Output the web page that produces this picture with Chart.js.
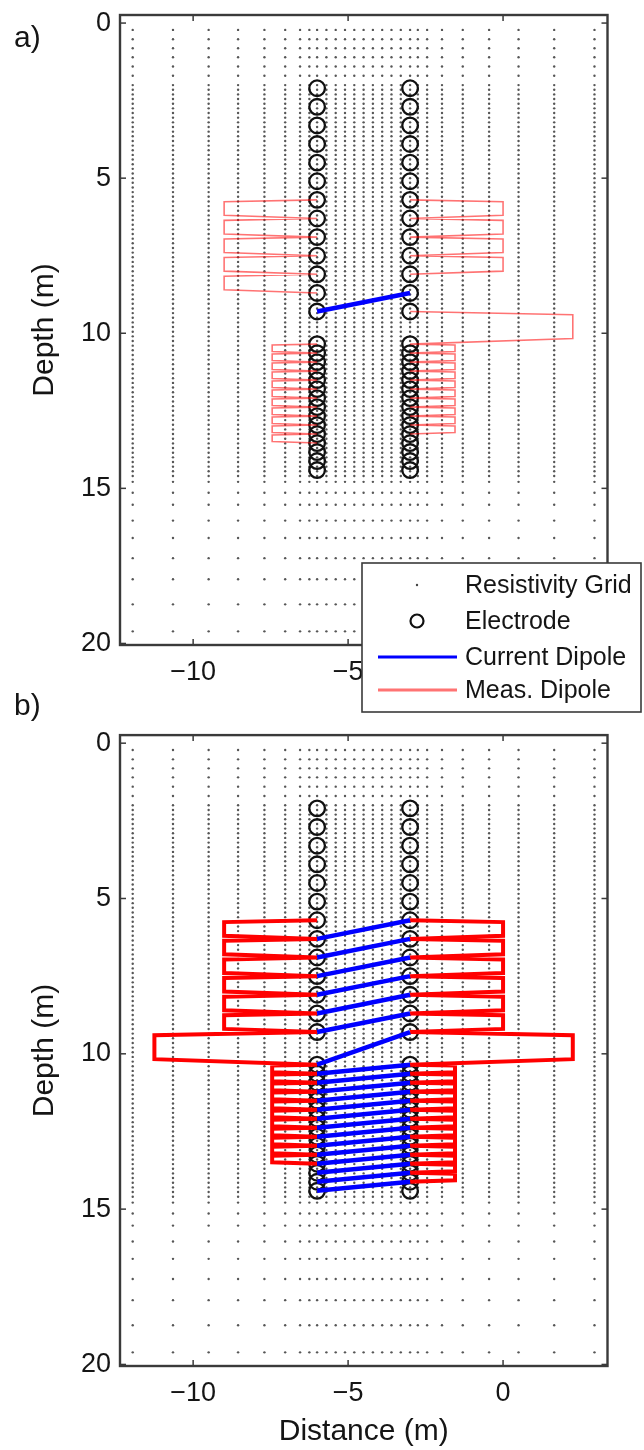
<!DOCTYPE html>
<html>
<head>
<meta charset="utf-8">
<script src="https://cdn.jsdelivr.net/npm/chart.js@4.4.1/dist/chart.umd.min.js"></script>
<style>
  html, body { margin: 0; padding: 0; background: #fff; }
  #wrap { position: relative; width: 644px; height: 1450px; }
  canvas { position: absolute; left: 0; }
  #chartA { top: 0; }
  #chartB { top: 725px; }
  .tag { position: absolute; left: 14px; font: 30px "Liberation Sans", Arial, sans-serif; color: #151515; line-height: 30px; }
</style>
</head>
<body>
<div id="wrap">
  <canvas id="chartA" width="644" height="725"></canvas>
  <canvas id="chartB" width="644" height="725"></canvas>
  <div class="tag" style="top:22px">a)</div>
  <div class="tag" style="top:690px">b)</div>
</div>
<script>
// resistivity grid nodes (m)
const gridX = [-11.95, -10.65, -9.5, -8.55, -7.7, -7.03, -6.55, -6.25, -6.0, -5.7, -5.4, -5.1, -4.8, -4.5,
  -4.2, -3.9, -3.6, -3.3, -3.0, -2.75, -2.45, -1.97, -1.3, -0.45, 0.5, 1.65, 2.95];
const gridZ = [0.22, 0.52, 0.81, 1.1, 1.4, 1.7, 2.0, 2.15, 2.3, 2.45, 2.6, 2.75, 2.9, 3.05, 3.2, 3.35,
  3.5, 3.65, 3.8, 3.95, 4.1, 4.25, 4.4, 4.55, 4.7, 4.85, 5.0, 5.15, 5.3, 5.45, 5.6, 5.75, 5.9, 6.05,
  6.2, 6.35, 6.5, 6.65, 6.8, 6.95, 7.1, 7.25, 7.4, 7.55, 7.7, 7.85, 8.0, 8.15, 8.3, 8.45, 8.6, 8.75,
  8.9, 9.05, 9.2, 9.35, 9.5, 9.65, 9.8, 9.95, 10.1, 10.25, 10.4, 10.55, 10.7, 10.85, 11.0, 11.15,
  11.3, 11.45, 11.6, 11.75, 11.9, 12.05, 12.2, 12.35, 12.5, 12.65, 12.8, 12.95, 13.1, 13.25, 13.4,
  13.55, 13.7, 13.85, 14.0, 14.15, 14.3, 14.45, 14.6, 14.79, 15.14, 15.53, 16.04, 16.6, 17.25,
  17.93, 18.74, 19.61];

// two boreholes, same electrode depths in each
const boreholeX = [-6, -3];
const electrodeZ = [2.1, 2.7, 3.3, 3.9, 4.5, 5.1, 5.7, 6.3, 6.9, 7.5, 8.1, 8.7, 9.3,
  10.35, 10.64, 10.93, 11.22, 11.51, 11.8, 12.09, 12.38, 12.67, 12.96, 13.25, 13.54, 13.83, 14.12, 14.41];

const xTicks = [-10, -5, 0];
const yTicks = [0, 5, 10, 15, 20];

// current dipoles: [boreholeA, electrodeA, boreholeB, electrodeB]
const currentA = [[0, 12, 1, 11]];
const currentB = [
  [0, 7, 1, 6], [0, 8, 1, 7], [0, 9, 1, 8], [0, 10, 1, 9], [0, 11, 1, 10], [0, 12, 1, 11],
  [1, 12, 0, 13],
  [0, 14, 1, 13], [0, 15, 1, 14], [0, 16, 1, 15], [0, 17, 1, 16], [0, 18, 1, 17], [0, 19, 1, 18],
  [0, 20, 1, 19], [0, 21, 1, 20], [0, 22, 1, 21], [0, 23, 1, 22], [0, 24, 1, 23], [0, 25, 1, 24],
  [0, 26, 1, 25], [0, 27, 1, 26]
];

// measurement dipoles: [borehole, electrodeM, electrodeN]
const measA = [
  [0, 6, 7], [0, 7, 8], [0, 8, 9], [0, 9, 10], [0, 10, 11],
  [0, 13, 14], [0, 14, 15], [0, 15, 16], [0, 16, 17], [0, 17, 18], [0, 18, 19], [0, 19, 20],
  [0, 20, 21], [0, 21, 22], [0, 22, 23], [0, 23, 24],
  [1, 6, 7], [1, 7, 8], [1, 8, 9], [1, 9, 10],
  [1, 12, 13],
  [1, 13, 14], [1, 14, 15], [1, 15, 16], [1, 16, 17], [1, 17, 18], [1, 18, 19], [1, 19, 20],
  [1, 20, 21], [1, 21, 22], [1, 22, 23]
];
const measB = [
  [0, 6, 7], [0, 7, 8], [0, 8, 9], [0, 9, 10], [0, 10, 11], [0, 11, 12],
  [1, 6, 7], [1, 7, 8], [1, 8, 9], [1, 9, 10], [1, 10, 11], [1, 11, 12],
  [0, 12, 13], [1, 12, 13],
  [0, 13, 14], [0, 14, 15], [0, 15, 16], [0, 16, 17], [0, 17, 18], [0, 18, 19], [0, 19, 20],
  [0, 20, 21], [0, 21, 22], [0, 22, 23], [0, 23, 24],
  [1, 13, 14], [1, 14, 15], [1, 15, 16], [1, 16, 17], [1, 17, 18], [1, 18, 19], [1, 19, 20],
  [1, 20, 21], [1, 21, 22], [1, 22, 23], [1, 23, 24], [1, 24, 25], [1, 25, 26]
];

const FONT = '"Liberation Sans", Arial, Helvetica, sans-serif';
Chart.defaults.font.family = FONT;
Chart.defaults.color = '#151515';

const gridPoints = [];
gridZ.forEach(z => gridX.forEach(x => gridPoints.push({ x: x, y: z })));

const electrodePoints = [];
boreholeX.forEach(x => electrodeZ.forEach(z => electrodePoints.push({ x: x, y: z })));

// straight segment between the two current electrodes, gaps between dipoles
function currentPath(list) {
  const pts = [];
  list.forEach(([b1, e1, b2, e2]) => {
    pts.push({ x: boreholeX[b1], y: electrodeZ[e1] });
    pts.push({ x: boreholeX[b2], y: electrodeZ[e2] });
    pts.push({ x: null, y: null });
  });
  return pts;
}

// bracket drawn out from the borehole, reach grows with the dipole length
function measPath(list) {
  const pts = [];
  list.forEach(([b, m, n]) => {
    const x0 = boreholeX[b];
    const zm = electrodeZ[m];
    const zn = electrodeZ[n];
    const span = zn - zm;
    const xf = x0 + (b === 0 ? -5 : 5) * span;
    pts.push({ x: x0, y: zm });
    pts.push({ x: xf, y: zm + 0.1 * span });
    pts.push({ x: xf, y: zn - 0.17 * span });
    pts.push({ x: x0, y: zn });
    pts.push({ x: null, y: null });
  });
  return pts;
}

const minus = v => (v < 0 ? '\u2212' + Math.abs(v) : String(v));

// box around the axes with inward ticks on all four sides
const frame = {
  id: 'frame',
  afterDatasetsDraw(chart) {
    const { ctx, chartArea: a, scales } = chart;
    const seg = (x1, y1, x2, y2) => { ctx.beginPath(); ctx.moveTo(x1, y1); ctx.lineTo(x2, y2); ctx.stroke(); };
    ctx.save();
    ctx.strokeStyle = '#3a3a3a';
    ctx.lineWidth = 1.5;
    xTicks.forEach(v => {
      const px = scales.x.getPixelForValue(v);
      seg(px, a.top, px, a.top + 6);
      seg(px, a.bottom, px, a.bottom - 6);
    });
    yTicks.forEach(v => {
      const py = scales.y.getPixelForValue(v);
      seg(a.left, py, a.left + 6, py);
      seg(a.right, py, a.right - 6, py);
    });
    ctx.lineWidth = 2.4;
    ctx.strokeRect(a.left, a.top, a.right - a.left, a.bottom - a.top);
    ctx.restore();
  }
};

// legend box, partly below the upper axes
const boxLegend = {
  id: 'boxLegend',
  afterDraw(chart) {
    const ctx = chart.ctx;
    const ds = chart.data.datasets;
    const left = 362, top = 563, w = 279, h = 149;
    const rowY = [585, 621, 657, 690];
    ctx.save();
    ctx.fillStyle = '#fff';
    ctx.fillRect(left, top, w, h);
    ctx.strokeStyle = '#3a3a3a';
    ctx.lineWidth = 1.6;
    ctx.strokeRect(left, top, w, h);
    ctx.font = '25px ' + FONT;
    ctx.textBaseline = 'middle';
    [3, 2, 0, 1].forEach((i, row) => {
      const d = ds[i];
      const y = rowY[row];
      if (d.showLine) {
        ctx.strokeStyle = i === 0 ? '#0000ff' : 'rgba(255,90,90,0.85)';
        ctx.lineWidth = 3;
        ctx.beginPath(); ctx.moveTo(378, y); ctx.lineTo(457, y); ctx.stroke();
      } else if (d.pointRadius > 3) {
        ctx.strokeStyle = '#111';
        ctx.lineWidth = 2.2;
        ctx.beginPath(); ctx.arc(417, y, 6.5, 0, Math.PI * 2); ctx.stroke();
      } else {
        ctx.fillStyle = '#444';
        ctx.beginPath(); ctx.arc(417, y, 1.2, 0, Math.PI * 2); ctx.fill();
      }
      ctx.fillStyle = '#151515';
      ctx.fillText(d.label, 465, y + 1);
    });
    ctx.restore();
  }
};

function makeChart(id, cfg) {
  return new Chart(document.getElementById(id), {
    type: 'scatter',
    data: {
      datasets: [
        { label: 'Current Dipole', data: currentPath(cfg.current), showLine: true, spanGaps: false,
          borderColor: '#0000ff', borderWidth: 4.5, pointRadius: 0, order: 1 },
        { label: 'Meas. Dipole', data: measPath(cfg.meas), showLine: true, spanGaps: false,
          borderColor: cfg.measColor, borderWidth: cfg.measWidth, pointRadius: 0, order: 2 },
        { label: 'Electrode', data: electrodePoints, pointStyle: 'circle', pointRadius: 7.8,
          borderColor: '#111', borderWidth: 2.3, backgroundColor: 'rgba(0,0,0,0)', order: 3 },
        { label: 'Resistivity Grid', data: gridPoints, pointRadius: 1.2, borderWidth: 0,
          backgroundColor: 'rgba(30,30,30,0.75)', order: 4 }
      ]
    },
    options: {
      responsive: false,
      animation: false,
      events: [],
      layout: { padding: { left: 0, right: 36.5, top: cfg.top, bottom: 0 } },
      plugins: { legend: { display: false }, tooltip: { enabled: false } },
      scales: {
        x: {
          type: 'linear', min: -12.36, max: 3.37,
          grid: { display: false, drawTicks: false }, border: { display: false },
          afterBuildTicks: s => { s.ticks = xTicks.map(v => ({ value: v })); },
          afterFit: s => { s.height = cfg.xHeight; s.paddingLeft = 0; s.paddingRight = 0; },
          ticks: { font: { size: 27 }, padding: 11, maxRotation: 0, callback: minus },
          title: { display: cfg.xTitle, text: 'Distance (m)', font: { size: 30 }, padding: { top: 0, bottom: 0 } }
        },
        y: {
          type: 'linear', reverse: true, min: -0.26, max: 20.05,
          grid: { display: false, drawTicks: false }, border: { display: false },
          afterBuildTicks: s => { s.ticks = yTicks.map(v => ({ value: v })); },
          afterFit: s => { s.width = 120; s.paddingTop = 0; s.paddingBottom = 0; },
          ticks: { font: { size: 27 }, padding: 9, callback: minus },
          title: { display: true, text: 'Depth (m)', font: { size: 30 }, padding: { top: 27, bottom: 0 } }
        }
      }
    },
    plugins: cfg.legend ? [frame, boxLegend] : [frame]
  });
}

makeChart('chartA', { current: currentA, meas: measA, measColor: 'rgba(255,0,0,0.55)', measWidth: 1.6,
  top: 15, xHeight: 80, xTitle: false, legend: true });
makeChart('chartB', { current: currentB, meas: measB, measColor: '#ff0000', measWidth: 4,
  top: 9, xHeight: 84, xTitle: true, legend: false });
</script>
</body>
</html>
